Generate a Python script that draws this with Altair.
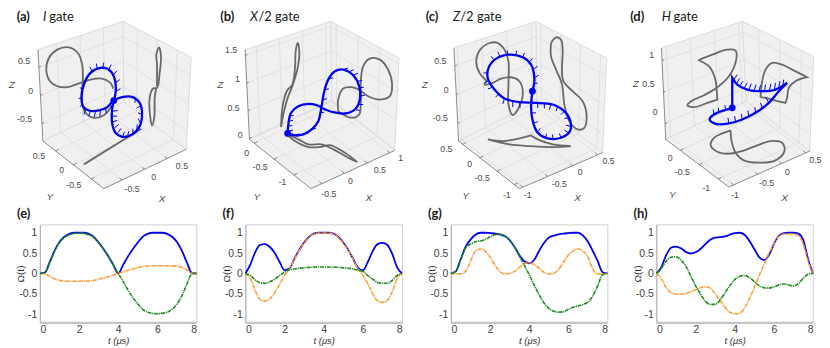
import altair as alt
import pandas as pd

# ---------- pulse panels (bottom row) ----------
T = [0,.25,.5,.75,1,1.25,1.5,1.75,2,2.25,2.5,2.75,3,3.25,3.5,3.75,4,4.25,4.5,4.75,5,5.25,5.5,5.75,6,6.25,6.5,6.75,7,7.25,7.5,7.75,8]
E_BLUE = [0,.02,.28,.56,.77,.90,.97,1,1,1,.97,.90,.76,.60,.42,.21,0,.21,.42,.60,.76,.90,.97,1,1,1,.97,.90,.77,.56,.28,.02,0]
E_GREEN = [0,.02,.27,.55,.76,.88,.95,.98,.99,.98,.95,.88,.75,.59,.41,.2,0,-.2,-.41,-.59,-.75,-.88,-.95,-.98,-.99,-.98,-.95,-.88,-.75,-.55,-.27,-.02,0]
E_ORANGE = [0,-.01,-.07,-.13,-.17,-.185,-.19,-.19,-.19,-.19,-.185,-.17,-.14,-.11,-.08,-.04,0,.04,.08,.11,.14,.17,.185,.19,.19,.19,.185,.18,.18,.15,.09,.01,0]
F_BLUE = [0,.22,.52,.70,.72,.65,.5,.28,.08,.12,.36,.58,.76,.90,.98,1,1,1,.98,.90,.76,.58,.36,.14,.08,.28,.55,.72,.75,.70,.48,.15,0]
F_ORANGE = [0,-.12,-.42,-.64,-.68,-.62,-.47,-.26,-.05,.10,.34,.56,.74,.88,.97,.99,.99,.99,.97,.88,.74,.56,.34,.12,-.05,-.25,-.5,-.67,-.71,-.66,-.45,-.12,0]
F_GREEN = [0,-.05,-.16,-.23,-.24,-.2,-.14,-.05,.03,.09,.11,.13,.14,.15,.155,.16,.16,.16,.155,.15,.14,.13,.11,.08,.05,-.05,-.14,-.22,-.24,-.24,-.17,-.05,0]
G_BLUE = [0,.05,.35,.65,.83,.95,1,1,.99,.98,.96,.92,.82,.65,.45,.3,.25,.33,.55,.75,.88,.93,.96,.98,.99,1,1,.93,.78,.55,.3,.03,0]
G_ORANGE = [0,-.01,-.01,.05,.3,.55,.6,.55,.4,.2,.05,-.01,0,.05,.15,.24,.26,.22,.13,.03,-.01,0,.1,.28,.45,.56,.6,.55,.4,.1,-.01,-.01,0]
G_GREEN = [0,.05,.35,.63,.72,.78,.8,.83,.9,.95,.96,.92,.82,.65,.42,.2,-.03,-.28,-.52,-.72,-.85,-.93,-.95,-.94,-.88,-.83,-.8,-.76,-.7,-.55,-.3,-.03,0]
H_BLUE = [0,.15,.45,.63,.66,.62,.53,.49,.52,.6,.72,.83,.88,.89,.91,.95,.99,1,.95,.8,.6,.4,.33,.45,.72,.92,.99,1,1,.98,.82,.35,0]
H_ORANGE = [0,-.12,-.35,-.47,-.51,-.51,-.49,-.45,-.4,-.35,-.33,-.36,-.5,-.66,-.83,-.95,-.99,-.98,-.85,-.62,-.35,-.05,.22,.5,.7,.9,.97,.97,.97,.93,.72,.3,0]
H_GREEN = [0,.12,.3,.4,.41,.33,.18,-.05,-.3,-.5,-.68,-.76,-.76,-.65,-.48,-.3,-.15,-.07,-.05,-.1,-.2,-.3,-.35,-.36,-.33,-.28,-.26,-.28,-.31,-.25,-.12,-.02,0]

# ---------- 3D panels: curves (u, v at 3x) ----------
A_BLUE = [(340,298),(346,270),(340,225),(322,203),(300,200),(270,215),(250,250),(243,290),(248,316),(265,328),(295,328),(320,318),(340,298),(365,288),(395,287),(418,305),(425,335),(418,375),(395,400),(365,407),(345,395),(335,365),(335,325),(340,298)]
A_WALL1 = [(338,262),(330,245),(305,232),(270,235),(240,245),(200,258),(170,255),(148,240),(137,205),(145,170),(170,145),(205,138),(232,155),(245,190),(247,240),(243,290),(255,335),(280,350),(310,342),(338,310)]
A_WALL2 = [(470,255),(470,190),(468,160),(476,138),(482,165),(478,215),(470,260),(458,262),(448,290),(450,350),(455,373),(462,345),(463,290),(468,258)]
A_FLOOR = [(250,490),(423,383)]
A_HAIRS = [(275,210,268,197),(290,201,288,187),(307,199,310,184),(325,205,332,190),(338,222,350,208),(345,245,358,235),(348,270,360,262),(248,262,238,260),(243,290,234,292),(245,312,238,316),(255,325,250,340),(270,328,265,345),(285,329,282,347),(300,327,298,345),(315,321,318,337),(330,310,335,325),(338,330,352,328),(335,345,350,345),(336,362,350,358),(342,380,355,370),(352,395,362,382),(367,406,372,392),(382,404,385,390),(398,397,397,383),(410,385,410,370),(420,365,413,352),(425,340,413,335),(420,315,410,320),(405,295,403,305)]

B_BLUE = [(248,397),(250,370),(258,335),(280,315),(310,308),(335,312),(355,322),(385,333),(420,337),(450,325),(465,295),(463,255),(445,222),(415,205),(390,210),(370,235),(358,270),(350,315),(340,360),(320,385),(295,400),(270,403),(248,397)]
B_WALL1 = [(228,378),(232,320),(245,270),(262,250),(270,200),(272,150),(278,125),(283,150),(278,200),(262,255),(248,290),(235,340),(228,378)]
B_WALL2 = [(400,330),(400,295),(415,262),(440,258),(462,265),(490,285),(525,295),(555,285),(562,250),(550,205),(525,175),(495,172),(475,195),(468,240),(468,300),(463,340),(440,350),(415,340),(400,330)]
B_FLOOR = [(245,398),(270,420),(310,438),(350,437),(375,432),(420,455),(457,483),(457,483),(430,470),(385,445),(350,430),(310,430),(280,415),(245,398)]
B_HAIRS = [(252,345,266,343),(250,360,264,358),(249,375,262,373),(250,390,264,387),(270,403,284,398),(295,400,310,396),(320,385,333,382),(345,335,358,333),(353,295,366,293),(360,265,372,263),(372,232,385,230),(392,208,405,207),(415,205,430,200),(432,212,447,205),(445,222,460,216),(457,240,472,238),(464,260,477,258),(465,285,480,282),(460,310,475,310),(450,325,465,328)]

C_BLUE = [(369,270),(375,235),(365,190),(340,168),(300,160),(260,172),(237,200),(235,232),(255,265),(285,292),(330,303),(380,305),(430,310),(465,330),(483,360),(482,390),(455,410),(415,412),(385,395),(370,360),(365,320),(369,270)]
C_WALL1 = [(232,240),(210,215),(200,180),(212,145),(240,125),(265,125),(285,145),(297,180),(297,250),(297,310),(310,342),(325,325),(340,280),(330,240),(305,228),(275,232),(250,245),(225,250),(232,240)]
C_WALL2 = [(425,125),(440,108),(455,115),(460,150),(458,200),(462,240),(490,270),(520,300),(532,345),(525,380),(505,385),(480,360),(465,310),(458,250),(440,205),(425,165),(425,125)]
C_FLOOR = [(235,415),(280,420),(330,412),(365,403),(365,403),(385,415),(430,430),(485,435),(485,435),(430,438),(360,435),(300,430),(235,415)]
C_HAIRS = [(255,178,245,165),(272,167,265,152),(295,161,293,147),(318,162,322,148),(340,168,345,155),(358,182,370,172),(370,205,385,195),(375,230,388,222),(375,248,385,245),(236,215,222,215),(238,237,225,245),(250,258,235,263),(268,278,258,288),(285,292,280,308),(310,300,310,318),(330,303,332,320),(385,305,385,320),(405,307,405,322),(425,309,420,325),(445,317,440,330),(465,330,455,340),(478,350,465,352),(483,375,470,372),(478,395,465,387),(455,410,450,397),(430,413,430,400),(408,410,412,398),(385,392,393,382),(372,365,385,362),(367,335,380,335)]

D_BLUE = [(340,320),(340,230),(340,230),(355,250),(385,265),(430,270),(470,265),(505,245),(505,245),(480,270),(450,305),(410,335),(370,355),(330,367),(290,368),(272,355),(285,340),(340,320)]
D_WALL1 = [(238,177),(238,177),(280,160),(325,145),(350,148),(352,175),(330,225),(290,262),(255,282),(220,298),(205,312),(225,318),(265,305),(295,295),(295,295),(293,265),(288,230),(270,195),(238,177)]
D_WALL2 = [(425,288),(430,240),(440,205),(460,185),(490,190),(520,205),(565,228),(565,228),(530,240),(510,260),(505,290),(500,305),(500,305),(470,298),(440,290),(425,288)]
D_FLOOR = [(335,388),(338,420),(350,455),(375,478),(420,485),(470,478),(497,450),(490,425),(455,420),(410,435),(370,450),(330,458),(295,452),(275,432),(285,410),(310,397),(335,388)]
D_HAIRS = [(345,235,355,220),(352,248,362,232),(362,255,372,240),(375,262,385,245),(390,266,397,247),(405,269,412,250),(420,270,425,252),(437,270,440,250),(452,268,456,248),(467,265,470,245),(480,258,483,240),(492,252,495,235),(285,340,283,325),(300,335,298,320),(320,327,318,312),(330,367,327,350),(350,362,347,345),(370,355,367,338),(390,345,387,328),(410,335,408,318),(430,320,425,305),(450,305,442,290)]

# box corners: LT, BT, RT, LB, BB, RB, FB
A_BOX = [(112,145),(368,60),(573,168),(127,420),(370,302),(558,445),(310,563)]
B_BOX = [(120,145),(378,60),(583,170),(133,415),(380,300),(570,448),(318,563)]
C_BOX = [(133,140),(380,60),(592,170),(147,420),(382,300),(580,455),(330,563)]
D_BOX = [(127,140),(370,60),(585,165),(140,415),(382,300),(573,450),(330,558)]

# axis limits (low end at the near corner), ticks
A_XLIM, A_YLIM, A_ZLIM = (-.9,.92), (.85,-.85), (.81,-.81)
B_XLIM, B_YLIM, B_ZLIM = (-.74,1.11), (.12,-1.43), (1.6,-.02)
C_XLIM, C_YLIM, C_ZLIM = (-1.07,.6), (.62,-1.15), (.81,-.81)
D_XLIM, D_YLIM, D_ZLIM = (-1.1,.58), (.38,-1.28), (1.2,-.25)
A_XT, A_YT, A_ZT = [-.5,0,.5], [.5,0,-.5], [.5,0,-.5]
B_XT, B_YT, B_ZT = [-.5,0,.5,1], [0,-.5,-1], [1.5,1,.5,0]
C_XT, C_YT, C_ZT = [-1,-.5,0,.5], [.5,0,-.5,-1], [.5,0,-.5]
D_XT, D_YT, D_ZT = [-1,-.5,0,.5], [0,-.5,-1], [1,.5,0]

A_LABELS = [(70,180,"0.5"),(90,270,"0"),(72,355,"-0.5"),(115,465,"0.5"),(183,508,"0"),(220,553,"-0.5"),(395,563,"-0.5"),(460,527,"0"),(545,495,"0.5")]
B_LABELS = [(78,145,"1.5"),(97,233,"1"),(85,320,"0.5"),(105,402,"0"),(125,455,"0"),(165,497,"-0.5"),(232,543,"-1"),(372,578,"-0.5"),(437,541,"0"),(525,507,"0.5"),(588,472,"1")]
C_LABELS = [(92,178,"0.5"),(110,267,"0"),(92,350,"-0.5"),(110,445,"0.5"),(180,488,"0"),(218,532,"-0.5"),(292,582,"-1"),(355,583,"-1"),(450,548,"-0.5"),(513,512,"0"),(598,480,"0.5")]
D_LABELS = [(98,160,"1"),(88,248,"0.5"),(108,332,"0"),(153,470,"0"),(190,513,"-0.5"),(262,560,"-1"),(348,582,"-1"),(443,547,"-0.5"),(506,512,"0"),(590,477,"0.5")]
A_NAMES = [(33,252,"Z"),(148,588,"Y"),(485,595,"X")]
B_NAMES = [(45,250,"Z"),(155,587,"Y"),(492,592,"X")]
C_NAMES = [(45,250,"Z"),(168,585,"Y"),(505,592,"X")]
D_NAMES = [(50,248,"Z"),(160,583,"Y"),(497,592,"X")]

A_TITLE = [(48,47,"(a)","bold"),(127,47,"I","italic"),(146,47,"gate","normal")]
B_TITLE = [(45,47,"(b)","bold"),(135,47,"X","italic"),(160,47,"/2 gate","normal")]
C_TITLE = [(48,47,"(c)","bold"),(130,47,"Z","italic"),(152,47,"/2 gate","normal")]
D_TITLE = [(33,47,"(d)","bold"),(128,47,"H","italic"),(163,47,"gate","normal")]

CROP_X = [0, 205, 410, 620]
LEFT0, PITCH, SCENE_TOP, SCENE_BOTTOM = 39.3, 206, 8, 205
PLOT_W, PLOT_H = 157, 98
BLUE, GREEN, ORANGE = "#0000f0", "#1c8a1c", "#ff9a30"
GRAY = "#696969"
FONT = "Liberation Sans"


def lerp(a, b, f):
    return (a[0] + (b[0] - a[0]) * f, a[1] + (b[1] - a[1]) * f)


def frac(v, lim):
    return (v - lim[0]) / (lim[1] - lim[0])


def slices(poly, name):
    xs = sorted({p[0] for p in poly})
    rows = []
    n = len(poly)
    for x in xs:
        ys = []
        for i in range(n):
            a, b = poly[i], poly[(i + 1) % n]
            lo, hi = min(a[0], b[0]), max(a[0], b[0])
            if lo <= x <= hi and hi > lo:
                ys.append(a[1] + (b[1] - a[1]) * (x - a[0]) / (b[0] - a[0]))
        rows.append({"u": x, "v": min(ys), "v2": max(ys), "poly": name})
    return rows


def path_df(pts):
    return pd.DataFrame([{"u": p[0], "v": p[1], "i": i} for i, p in enumerate(pts)])


def seg_df(segs):
    rows = []
    for k, s in enumerate(segs):
        rows.append({"u": s[0], "v": s[1], "k": k, "i": 0})
        rows.append({"u": s[2], "v": s[3], "k": k, "i": 1})
    return pd.DataFrame(rows)


def scene(idx, box, xlim, ylim, zlim, xt, yt, zt, walls, floor, blue, hairs, labels, names, title):
    L = LEFT0 + PITCH * idx
    xs = alt.Scale(domain=[(L - CROP_X[idx]) * 3, (L + PLOT_W - CROP_X[idx]) * 3], nice=False, zero=False)
    ys = alt.Scale(domain=[SCENE_BOTTOM * 3, SCENE_TOP * 3], nice=False, zero=False)
    X = alt.X("u:Q", scale=xs, axis=None)
    Y = alt.Y("v:Q", scale=ys, axis=None)
    LT, BT, RT, LB, BB, RB, FB = box

    fills = pd.DataFrame(slices([LT, BT, BB, LB], "l") + slices([BT, RT, RB, BB], "r") + slices([LB, BB, RB, FB], "f"))
    faces = alt.Chart(fills).mark_area(color="#f0f0f0", opacity=1).encode(X, Y, y2="v2:Q", detail="poly:N")

    grid, frame_light, frame_dark = [], [], []
    for v in zt:
        f = frac(v, zlim)
        a, b, c = lerp(LT, LB, f), lerp(BT, BB, f), lerp(RT, RB, f)
        grid += [(*a, *b), (*b, *c)]
        frame_dark.append((*a, *lerp(a, b, .025)))
    for v in xt:
        f = frac(v, xlim)
        a, b, c = lerp(LT, BT, f), lerp(LB, BB, f), lerp(FB, RB, f)
        grid += [(*a, *b), (*b, *c)]
        frame_dark.append((*c, *lerp(c, b, .04)))
    for v in yt:
        f = frac(v, ylim)
        a, b, c = lerp(BT, RT, f), lerp(BB, RB, f), lerp(LB, FB, f)
        grid += [(*a, *b), (*b, *c)]
        frame_dark.append((*c, *lerp(c, b, .04)))
    frame_light = [(*LT, *BT), (*BT, *RT), (*RT, *RB), (*BT, *BB), (*BB, *LB), (*BB, *RB)]
    frame_dark += [(*LT, *LB), (*LB, *FB), (*FB, *RB)]

    def segs(data, color, width):
        return alt.Chart(seg_df(data)).mark_line(color=color, strokeWidth=width).encode(
            X, Y, detail="k:N", order="i:Q")

    def curve(pts, color, width):
        return alt.Chart(path_df(pts)).mark_line(color=color, strokeWidth=width, interpolate="catmull-rom").encode(
            X, Y, order="i:Q")

    layers = [faces, segs(grid, "#d9d9d9", .7), segs(frame_light, "#d0d0d0", .7), segs(frame_dark, "#707070", .8)]
    for w in walls + [floor]:
        layers.append(curve(w, GRAY, 1.8))
    layers.append(segs(hairs, BLUE, 1))
    layers.append(curve(blue, BLUE, 2.3))
    layers.append(alt.Chart(path_df(blue[:1])).mark_circle(color=BLUE, size=46, opacity=1).encode(X, Y))

    lab = pd.DataFrame(labels, columns=["u", "v", "t"])
    layers.append(alt.Chart(lab).mark_text(font=FONT, fontSize=8.8, color="#4a4a4a").encode(X, Y, text="t:N"))
    nm = pd.DataFrame(names, columns=["u", "v", "t"])
    layers.append(alt.Chart(nm).mark_text(font=FONT, fontSize=10, fontStyle="italic", color="#4a4a4a").encode(X, Y, text="t:N"))
    tt = pd.DataFrame(title, columns=["u", "v", "t", "s"])
    for style in ["bold", "italic", "normal"]:
        sub = tt[tt.s == style]
        kw = {"fontWeight": "bold"} if style == "bold" else ({"fontStyle": "italic"} if style == "italic" else {})
        layers.append(alt.Chart(sub).mark_text(font="Lato", fontSize=13, align="left", color="#1a1a1a", **kw).encode(X, Y, text="t:N"))
    return alt.layer(*layers).properties(width=PLOT_W, height=SCENE_BOTTOM - SCENE_TOP)


def pulse(letter, blue, orange, green, y_title="Ω(t)"):
    df = pd.DataFrame({"t": T, "blue": blue, "orange": orange, "green": green})
    x = alt.X("t:Q", scale=alt.Scale(domain=[0, 8], nice=False),
              axis=alt.Axis(values=[0, 2, 4, 6, 8], title="t (μs)", grid=False, tickSize=0, labelPadding=2,
                            titlePadding=1, domainColor="#c4c4c4", domainWidth=2.2, labelFont=FONT, titleFont=FONT,
                            labelFontSize=10.5, titleFontSize=9.5, titleFontStyle="italic", titleFontWeight="normal",
                            labelColor="#404040", titleColor="#333333"))
    y = alt.Y("val:Q", scale=alt.Scale(domain=[-1.2, 1.2], nice=False),
              axis=alt.Axis(values=[-1, -.5, 0, .5, 1], labelExpr="datum.value", title=y_title, grid=False, tickSize=0,
                            labelPadding=3, titleX=-16, titleY=49, titleBaseline="alphabetic", domainColor="#b0b0b0",
                            labelFont=FONT, titleFont=FONT, labelFontSize=10.5, titleFontSize=10,
                            titleFontWeight="normal", labelColor="#404040", titleColor="#333333"))

    def line(field, color, width, dash=None):
        kw = {"strokeDash": dash} if dash else {}
        return alt.Chart(df).transform_calculate(val=f"datum.{field}").mark_line(
            color=color, strokeWidth=width, interpolate="monotone", **kw).encode(x, y)

    tag = alt.Chart(pd.DataFrame({"s": [letter]})).mark_text(font="Lato", fontWeight="bold", fontSize=13, align="left", color="#1a1a1a").encode(
        x=alt.value(-23), y=alt.value(-11), text="s:N")
    return alt.layer(line("blue", BLUE, 1.8), line("orange", ORANGE, 1.6, [4, .8, 1.2, .8]), line("green", GREEN, 1.6, [4, .8, 1.2, .8]), tag).properties(
        width=PLOT_W, height=PLOT_H, view=alt.ViewBackground(stroke="#c4c4c4", strokeWidth=.8))


chart = alt.concat(
    scene(0, A_BOX, A_XLIM, A_YLIM, A_ZLIM, A_XT, A_YT, A_ZT, [A_WALL1, A_WALL2], A_FLOOR, A_BLUE, A_HAIRS, A_LABELS, A_NAMES, A_TITLE),
    scene(1, B_BOX, B_XLIM, B_YLIM, B_ZLIM, B_XT, B_YT, B_ZT, [B_WALL1, B_WALL2], B_FLOOR, B_BLUE, B_HAIRS, B_LABELS, B_NAMES, B_TITLE),
    scene(2, C_BOX, C_XLIM, C_YLIM, C_ZLIM, C_XT, C_YT, C_ZT, [C_WALL1, C_WALL2], C_FLOOR, C_BLUE, C_HAIRS, C_LABELS, C_NAMES, C_TITLE),
    scene(3, D_BOX, D_XLIM, D_YLIM, D_ZLIM, D_XT, D_YT, D_ZT, [D_WALL1, D_WALL2], D_FLOOR, D_BLUE, D_HAIRS, D_LABELS, D_NAMES, D_TITLE),
    pulse("(e)", E_BLUE, E_ORANGE, E_GREEN),
    pulse("(f)", F_BLUE, F_ORANGE, F_GREEN),
    pulse("(g)", G_BLUE, G_ORANGE, G_GREEN),
    pulse("(h)", H_BLUE, H_ORANGE, H_GREEN),
    columns=4, spacing=alt.RowColnumber(row=18.7, column=PITCH - PLOT_W), bounds="flush",
).properties(
    padding={"left": 0, "top": 1, "right": 0, "bottom": 0}
).configure_view(stroke=None)
chart.save("out.html", embed_options={"renderer": "svg", "actions": False})
